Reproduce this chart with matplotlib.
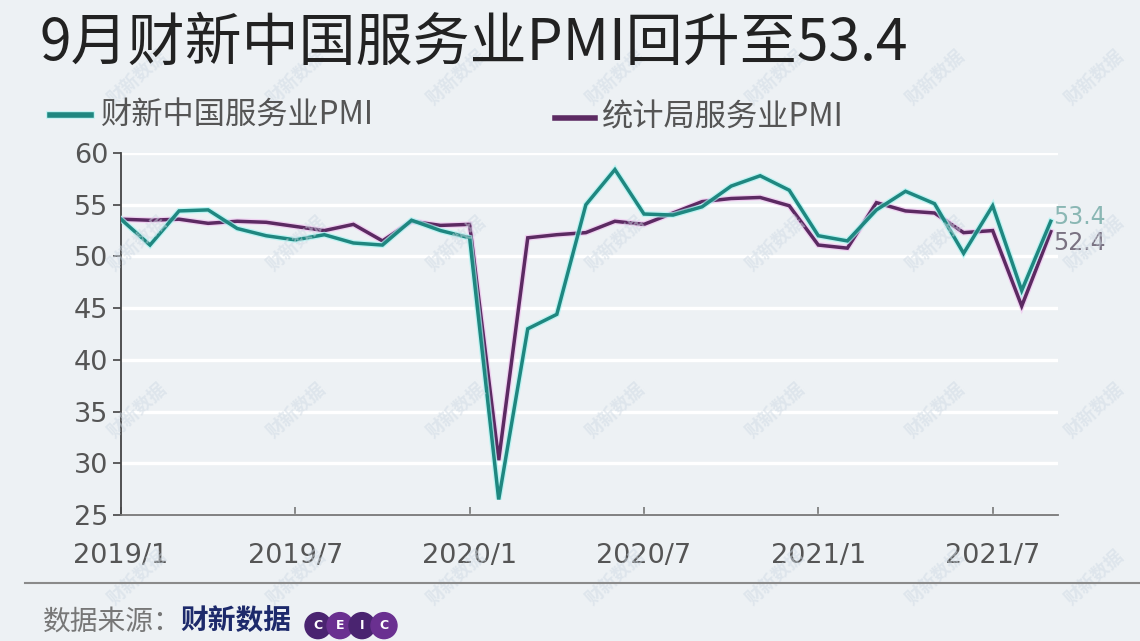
import matplotlib
matplotlib.use("Agg")
import matplotlib.pyplot as plt
import matplotlib.patheffects as pe
from matplotlib.lines import Line2D
from matplotlib.patches import Ellipse

plt.rcParams['font.family'] = ['Noto Sans CJK SC', 'DejaVu Sans']

# monthly data, 2019/1 .. 2021/9
months = ["2019/1", "2019/2", "2019/3", "2019/4", "2019/5", "2019/6", "2019/7", "2019/8",
          "2019/9", "2019/10", "2019/11", "2019/12", "2020/1", "2020/2", "2020/3", "2020/4",
          "2020/5", "2020/6", "2020/7", "2020/8", "2020/9", "2020/10", "2020/11", "2020/12",
          "2021/1", "2021/2", "2021/3", "2021/4", "2021/5", "2021/6", "2021/7", "2021/8", "2021/9"]

caixin = [53.6, 51.1, 54.4, 54.5, 52.7, 52.0, 51.6, 52.1, 51.3, 51.1, 53.5, 52.5,
          51.8, 26.5, 43.0, 44.4, 55.0, 58.4, 54.1, 54.0, 54.8, 56.8, 57.8, 56.4,
          52.0, 51.5, 54.5, 56.3, 55.1, 50.3, 54.9, 46.7, 53.4]

nbs = [53.6, 53.5, 53.6, 53.2, 53.4, 53.3, 52.9, 52.5, 53.1, 51.5, 53.4, 53.0,
       53.1, 30.3, 51.8, 52.1, 52.3, 53.4, 53.1, 54.2, 55.3, 55.6, 55.7, 54.9,
       51.1, 50.8, 55.2, 54.4, 54.2, 52.3, 52.5, 45.2, 52.4]

tick_labels = ["2019/1", "2019/7", "2020/1", "2020/7", "2021/1", "2021/7"]
y_ticks = [25, 30, 35, 40, 45, 50, 55, 60]

title = "9月财新中国服务业PMI回升至53.4"
name_caixin = "财新中国服务业PMI"
name_nbs = "统计局服务业PMI"

BG = "#edf1f4"
TEAL = "#1f8780"
PURPLE = "#5c2a62"
GRAY = "#555555"
NUM_FONT = ['DejaVu Sans']

fig = plt.figure(figsize=(11.4, 6.41), dpi=100, facecolor=BG)

# faint diagonal watermarks
for yy in [0.88, 0.62, 0.36, 0.10]:
    for xx in [0.05, 0.19, 0.33, 0.47, 0.61, 0.75, 0.89]:
        shift = 0.07 if int(yy * 100) % 2 == 0 else 0
        fig.text(xx + shift, yy, "财新数据", rotation=42, fontsize=13, fontweight="bold",
                 color="#cfdae4", alpha=0.5, ha="center", va="center", zorder=0)

ax = fig.add_axes([0.1061, 0.1966, 0.822, 0.5647])
ax.set_facecolor("none")

x = list(range(len(months)))
ax.plot(x, nbs, color=PURPLE, lw=2.5, zorder=3, solid_joinstyle="miter",
        path_effects=[pe.Stroke(linewidth=4.3, foreground="#f0c4f0", alpha=0.7), pe.Normal()])
ax.plot(x, caixin, color=TEAL, lw=2.5, zorder=4, solid_joinstyle="miter",
        path_effects=[pe.Stroke(linewidth=4.3, foreground="#a8f4f2", alpha=0.7), pe.Normal()])

ax.set_xlim(0, 32.25)
ax.set_ylim(25, 60)
ax.set_yticks(y_ticks)
ax.set_xticks([months.index(t) for t in tick_labels])
ax.set_xticklabels(tick_labels)
for lab in ax.get_xticklabels() + ax.get_yticklabels():
    lab.set_family(NUM_FONT)

ax.grid(axis="y", color="white", lw=2.4, zorder=1)
ax.set_axisbelow(True)
for s in ["top", "right"]:
    ax.spines[s].set_visible(False)
ax.spines["left"].set_color("#444444")
ax.spines["left"].set_linewidth(1.3)
ax.spines["bottom"].set_color("#777777")
ax.spines["bottom"].set_linewidth(1.3)
ax.tick_params(axis="y", direction="out", length=6, width=1.2, color="#444444",
               labelsize=19.5, labelcolor=GRAY, pad=3)
ax.tick_params(axis="x", direction="in", length=6, width=1.2, color="#777777",
               labelsize=19.5, labelcolor=GRAY, pad=20)

# end labels
ax.annotate(f"{caixin[-1]:.1f}", (x[-1], caixin[-1]), xytext=(2, 3), textcoords="offset points",
            ha="left", va="center", fontsize=17, color="#8ab7b4", family=NUM_FONT,
            annotation_clip=False)
ax.annotate(f"{nbs[-1]:.1f}", (x[-1], nbs[-1]), xytext=(2, -8), textcoords="offset points",
            ha="left", va="center", fontsize=17, color="#7a7282", family=NUM_FONT,
            annotation_clip=False)

# title
fig.text(0.035, 0.932, title, fontsize=41, color="#222222", ha="left", va="center")

# legend
fig.add_artist(Line2D([0.044, 0.080], [0.82, 0.82], color=TEAL, lw=4,
                      path_effects=[pe.Stroke(linewidth=5.5, foreground="#a8f4f2", alpha=0.7), pe.Normal()]))
fig.text(0.089, 0.82, name_caixin, fontsize=22.5, color=GRAY, ha="left", va="center")
fig.add_artist(Line2D([0.487, 0.522], [0.816, 0.816], color=PURPLE, lw=4))
fig.text(0.528, 0.816, name_nbs, fontsize=22.5, color=GRAY, ha="left", va="center")

# footer
fig.add_artist(Line2D([0.022, 1.0], [0.09, 0.09], color="#8a8a8a", lw=1.5))
fig.text(0.038, 0.03, "数据来源：", fontsize=20, color="#777777", ha="left", va="center")
fig.text(0.158, 0.03, "财新数据", fontsize=20, color="#1d2a6b", fontweight="bold",
         ha="left", va="center")
for i, ch in enumerate("CEIC"):
    cx = (318 + i * 22) / 1140
    cy = 0.024
    fig.add_artist(Ellipse((cx, cy), 26 / 1140, 26 / 641, transform=fig.transFigure,
                           color="#4a2470" if i % 2 == 0 else "#6a3090"))
    fig.text(cx, cy, ch, fontsize=9, color="white", ha="center", va="center",
             fontweight="bold", family=NUM_FONT)

fig.savefig("out.png", dpi=100, facecolor=BG)
